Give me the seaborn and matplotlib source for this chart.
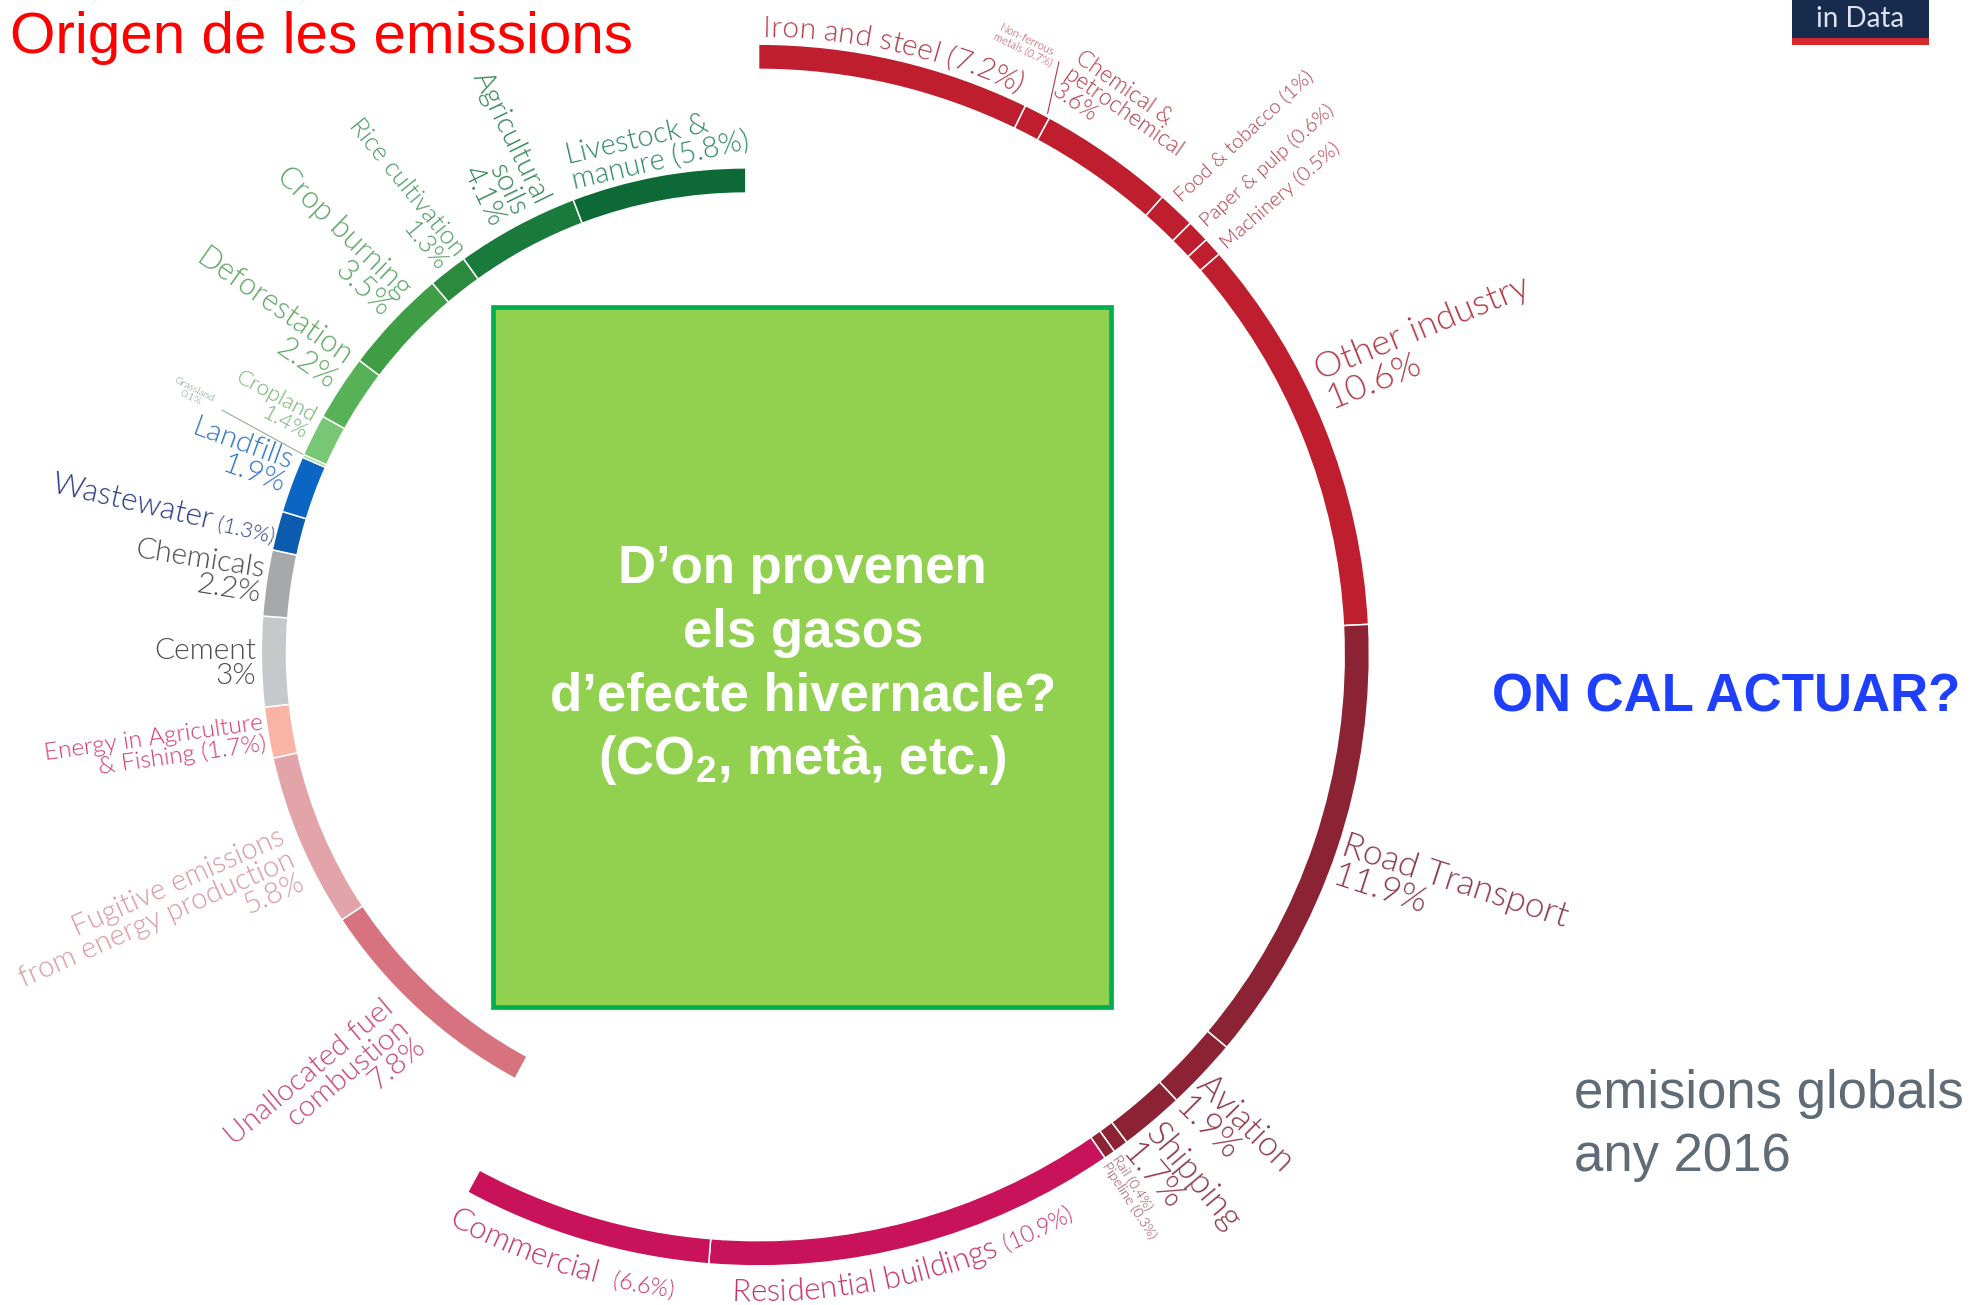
import numpy as np
import pandas as pd
import matplotlib
matplotlib.use("Agg")
import matplotlib.pyplot as plt
import seaborn as sns
from matplotlib.patches import Rectangle
from matplotlib.lines import Line2D
from matplotlib.font_manager import FontProperties
from matplotlib.textpath import TextToPath

# ---------------------------------------------------------------------------
# Share of global greenhouse-gas emissions by sector (%), 2016
# Outer ring, clockwise from 12 o'clock: energy use in industry, transport, buildings
energy_sectors = ["Iron and steel", "Non-ferrous metals", "Chemical & petrochemical",
                  "Food & tobacco", "Paper & pulp", "Machinery", "Other industry",
                  "Road Transport", "Aviation", "Shipping", "Rail", "Pipeline",
                  "Residential buildings", "Commercial"]
energy_share = [7.2, 0.7, 3.6, 1.0, 0.6, 0.5, 10.6,
                11.9, 1.9, 1.7, 0.4, 0.3,
                10.9, 6.6]
energy_colors = ["#BF1E2E"] * 7 + ["#8C2335"] * 5 + ["#C8135A"] * 2

# Inner ring, continuing clockwise: other energy, industry processes, waste, land use
land_sectors = ["Unallocated fuel combustion", "Fugitive emissions", "Energy in Agriculture & Fishing",
                "Cement", "Chemicals", "Wastewater", "Landfills", "Grassland", "Cropland",
                "Deforestation", "Crop burning", "Rice cultivation", "Agricultural soils",
                "Livestock & manure"]
land_share = [7.8, 5.8, 1.7, 3.0, 2.2, 1.3, 1.9, 0.1, 1.4, 2.2, 3.5, 1.3, 4.1, 5.8]
land_colors = ["#D6737E", "#E2A4A9", "#F9B4A6", "#C6C8C9", "#A6A8AA", "#0B5CAE", "#0A66C2",
               "#9AD795", "#77C775", "#57B257", "#3F9D46", "#2C8A3E", "#1A7A3B", "#0D6A37"]

# ---------------------------------------------------------------------------
df = pd.DataFrame({
    "sector": energy_sectors + land_sectors,
    "share": energy_share + land_share,
    "color": energy_colors + land_colors,
    "ring": ["energy"] * len(energy_sectors) + ["land"] * len(land_sectors),
})
df["start"] = df["share"].cumsum() - df["share"]
df["mid"] = df["start"] + df["share"] / 2
DEG_PER_PCT = 360.0 / df["share"].sum()


def fmt(v):
    return f"{v:g}"


# ---------------------------------------------------------------------------
sns.set_theme(style="white")
LBL_FONT = ["Lato", "DejaVu Sans"]
plt.rcParams["font.family"] = LBL_FONT
plt.rcParams["mathtext.fontset"] = "custom"
plt.rcParams["mathtext.rm"] = "Liberation Sans"
plt.rcParams["mathtext.bf"] = "Liberation Sans:bold"

W_U, H_U = 1568.0, 1034.0          # layout units
FIG_W, FIG_H, DPI = 19.79, 13.05, 100
PX_PER_U = FIG_W * DPI / W_U

fig = plt.figure(figsize=(FIG_W, FIG_H), dpi=DPI)
fig.patch.set_facecolor("white")


def fx(x):
    return x / W_U


def fy(y):
    return 1.0 - y / H_U


CENTERS = {"energy": (601.0, 519.0), "land": (591.0, 517.0)}
OUTER = {"energy": 484.0, "land": 384.0}
THICK = 20.0
HALF = 540.0


def ring_axes(cx, cy):
    ax = fig.add_axes([(cx - HALF) / W_U, 1 - (cy + HALF) / H_U,
                       2 * HALF / W_U, 2 * HALF / H_U], projection="polar")
    ax.set_theta_zero_location("N")
    ax.set_theta_direction(-1)
    ax.set_ylim(0, HALF)
    ax.set_axis_off()
    return ax


for ring in ["energy", "land"]:
    ax = ring_axes(*CENTERS[ring])
    sub = df[df["ring"] == ring]
    ax.bar(np.deg2rad(sub["start"] * DEG_PER_PCT), THICK,
           width=np.deg2rad(sub["share"] * DEG_PER_PCT),
           bottom=OUTER[ring] - THICK, align="edge",
           color=sub["color"], edgecolor="white", linewidth=1.1)

# ---------------------------------------------------------------------------
ttp = TextToPath()


def adv(s, size, weight=300):
    fp = FontProperties(family=LBL_FONT, size=size, weight=weight)
    w, _, _ = ttp.get_text_width_height_descent(s + "|", fp, ismath=False)
    w0, _, _ = ttp.get_text_width_height_descent("|", fp, ismath=False)
    return (w - w0) * DPI / 72.0 / PX_PER_U


def ring_point(ring, pct, dang, r):
    cx, cy = CENTERS[ring]
    a = np.deg2rad(90 - pct * DEG_PER_PCT + dang)
    return cx + r * np.cos(a), cy - r * np.sin(a)


def label(i, text, dang, r, rot, ha, va, size, color, ma=None):
    x, y = ring_point(df.loc[i, "ring"], df.loc[i, "mid"], dang, r)
    fig.text(fx(x), fy(y), text, rotation=rot, rotation_mode="anchor", ha=ha, va=va,
             fontsize=size, color=color, multialignment=ma or ha, linespacing=0.95,
             family=LBL_FONT, fontweight=300)


def arc_text(i, parts, r, dang, clockwise, color):
    ring = df.loc[i, "ring"]
    cx, cy = CENTERS[ring]
    chars = []
    for s, size in parts:
        for k, ch in enumerate(s):
            chars.append((ch, size, adv(s[:k + 1], size) - adv(s[:k], size)))
    total = sum(c[2] for c in chars)
    span = total / r
    mid = np.deg2rad(90 - df.loc[i, "mid"] * DEG_PER_PCT + dang)
    cum = 0.0
    for ch, size, a in chars:
        off = (cum + a / 2) / r
        if clockwise:
            t = mid + span / 2 - off
            rot = np.rad2deg(t) - 90
        else:
            t = mid - span / 2 + off
            rot = np.rad2deg(t) + 90
        x, y = cx + r * np.cos(t), cy - r * np.sin(t)
        fig.text(fx(x), fy(y), ch, rotation=rot, rotation_mode="anchor", ha="center",
                 va="baseline", fontsize=size, color=color, family=LBL_FONT, fontweight=300)
        cum += a


def right_parts(i, parts, dang, r, rot, color):
    """Single right-aligned line made of pieces of different size, centred on (i, dang, r)."""
    x, y = ring_point(df.loc[i, "ring"], df.loc[i, "mid"], dang, r)
    th = np.deg2rad(rot)
    u = np.array([np.cos(th), -np.sin(th)])
    d = np.array([np.sin(th), np.cos(th)])
    big = max(p[1] for p in parts)
    pos = np.array([x, y]) + d * 0.36 * big / 0.9087
    for s, size in reversed(parts):
        fig.text(fx(pos[0]), fy(pos[1]), s, rotation=rot, rotation_mode="anchor", ha="right",
                 va="baseline", fontsize=size, color=color, family=LBL_FONT, fontweight=300)
        pos = pos - u * adv(s, size)


def leader(x1, y1, x2, y2, color):
    fig.add_artist(Line2D([fx(x1), fx(x2)], [fy(y1), fy(y2)], transform=fig.transFigure,
                          color=color, lw=0.8))


v = df["share"].tolist()
IND, TRN, BLD = "#B23A48", "#8E3B4C", "#C4336A"

# --- industry
arc_text(0, [(f"Iron and steel ({fmt(v[0])}%)", 21.5)], 490, 0.3, True, IND)
label(1, f"Non-ferrous\nmetals ({fmt(v[1])}%)", 3.6, 528, -26, "center", "center", 8, IND)
leader(839, 49, 830, 90, IND)
label(2, f"Chemical &\npetrochemical\n{fmt(v[2])}%", 1.0, 518, -35, "center", "center", 16.5, IND, ma="left")
label(3, f"Food & tobacco ({fmt(v[3])}%)", 0.7, 491, 43, "left", "center", 14.5, IND)
label(4, f"Paper & pulp ({fmt(v[4])}%)", 0.2, 491, 42, "left", "center", 14.5, IND)
label(5, f"Machinery ({fmt(v[5])}%)", -0.5, 491, 41, "left", "center", 14.5, IND)
label(6, f"Other industry\n{fmt(v[6])}%", 1.2, 494, 22, "left", "baseline", 26, IND)
# --- transport
label(7, f"Road Transport\n{fmt(v[7])}%", 2.0, 487, -18, "left", "top", 25.5, TRN)
label(8, f"Aviation\n{fmt(v[8])}%", 1.1, 487, -45, "left", "top", 25, TRN)
label(9, f"Shipping\n{fmt(v[9])}%", 1.1, 487, -50, "left", "top", 25, TRN)
label(10, f"Rail ({fmt(v[10])}%)\nPipeline ({fmt(v[11])}%)", -0.4, 488, -57, "left", "top", 10, TRN)
# --- buildings
arc_text(12, [("Residential buildings ", 22.5), (f"({fmt(v[12])}%)", 16.5)], 512, -1.5, False, BLD)
arc_text(13, [("Commercial  ", 22.5), (f"({fmt(v[13])}%)", 16.5)], 514, -1.6, False, BLD)

# --- inner ring
label(14, f"Unallocated fuel\ncombustion\n{fmt(v[14])}%", 0.0, 399, 40, "right", "center", 21.5, "#C64677")
label(15, f"Fugitive emissions\nfrom energy production\n{fmt(v[15])}%", 1.4, 394, 24, "right", "center", 21, "#DA97A2")
label(16, f"Energy in Agriculture\n& Fishing ({fmt(v[16])}%)", 0.0, 387, 8, "right", "center", 17.5, "#D23A6E")
label(17, f"Cement\n{fmt(v[17])}%", 0.2, 388, 0, "right", "center", 21.5, "#4D4D4D")
label(18, f"Chemicals\n{fmt(v[18])}%", 0.0, 387, -9, "right", "center", 21.5, "#4D4D4D")
right_parts(19, [("Wastewater", 22.5), (f" ({fmt(v[19])}%)", 15.5)], 0.3, 385, -13, "#2C3C85")
label(20, f"Landfills\n{fmt(v[20])}%", -1.0, 389, -20, "right", "center", 21.5, "#2F73C6")
label(21, f"Grassland\n{fmt(v[21])}%", -1.1, 484, -27, "center", "center", 7.5, "#6F946F")
leader(176, 325, 240, 360, "#8FB095")
label(22, f"Cropland\n{fmt(v[22])}%", -0.9, 389, -28, "right", "center", 16, "#6CB36C")
label(23, f"Deforestation\n{fmt(v[23])}%", -1.7, 390, -35, "right", "center", 22, "#5DA862")
label(24, f"Crop burning\n{fmt(v[24])}%", -1.7, 392, -44, "right", "center", 22, "#5AA564")
label(25, f"Rice cultivation\n{fmt(v[25])}%", -1.0, 389, -51, "right", "center", 18.5, "#4A9A62")
label(26, f"Agricultural\nsoils\n{fmt(v[26])}%", -1.0, 391, -64, "right", "center", 21, "#2E8452")
label(27, f"Livestock &\nmanure ({fmt(v[27])}%)", 9.6, 408, 13, "left", "center", 21, "#2E8A62")

# ---------------------------------------------------------------------------
# central question box
fig.add_artist(Rectangle((fx(391), fy(798)), (880 - 391) / W_U, (798 - 243) / H_U,
                         transform=fig.transFigure, facecolor="#92D050",
                         edgecolor="#00B050", linewidth=3.4, zorder=2))
box_lines = ["D’on provenen", "els gasos", "d’efecte hivernacle?",
             r"(CO$_\mathbf{2}$, metà, etc.)"]
for k, line in enumerate(box_lines):
    fig.text(fx(636), fy(462 + 50.5 * k), line, ha="center", va="baseline",
             fontsize=38, fontweight="bold", color="white", family="Liberation Sans", zorder=3)

# headings and notes
fig.text(fx(8), fy(42), "Origen de les emissions", ha="left", va="baseline",
         fontsize=42, color="#FF0000", family="Liberation Sans")
fig.text(fx(1182), fy(564), "ON CAL ACTUAR?", ha="left", va="baseline",
         fontsize=38, fontweight="bold", color="#1F3FFF", family="Liberation Sans")
fig.text(fx(1247), fy(878), "emisions globals", ha="left", va="baseline",
         fontsize=38, color="#5F6B76", family="Liberation Sans")
fig.text(fx(1247), fy(928), "any 2016", ha="left", va="baseline",
         fontsize=38, color="#5F6B76", family="Liberation Sans")

# source badge
fig.add_artist(Rectangle((fx(1420), fy(30)), 108 / W_U, 40 / H_U, transform=fig.transFigure,
                         facecolor="#172B4D", edgecolor="none", zorder=2))
fig.add_artist(Rectangle((fx(1420), fy(36)), 108 / W_U, 6 / H_U, transform=fig.transFigure,
                         facecolor="#D42A2F", edgecolor="none", zorder=2))
fig.text(fx(1474), fy(21), "in Data", ha="center", va="baseline", fontsize=20,
         color="#DCE3F0", family=LBL_FONT, zorder=3)

fig.savefig("out.png", dpi=DPI, facecolor="white")
